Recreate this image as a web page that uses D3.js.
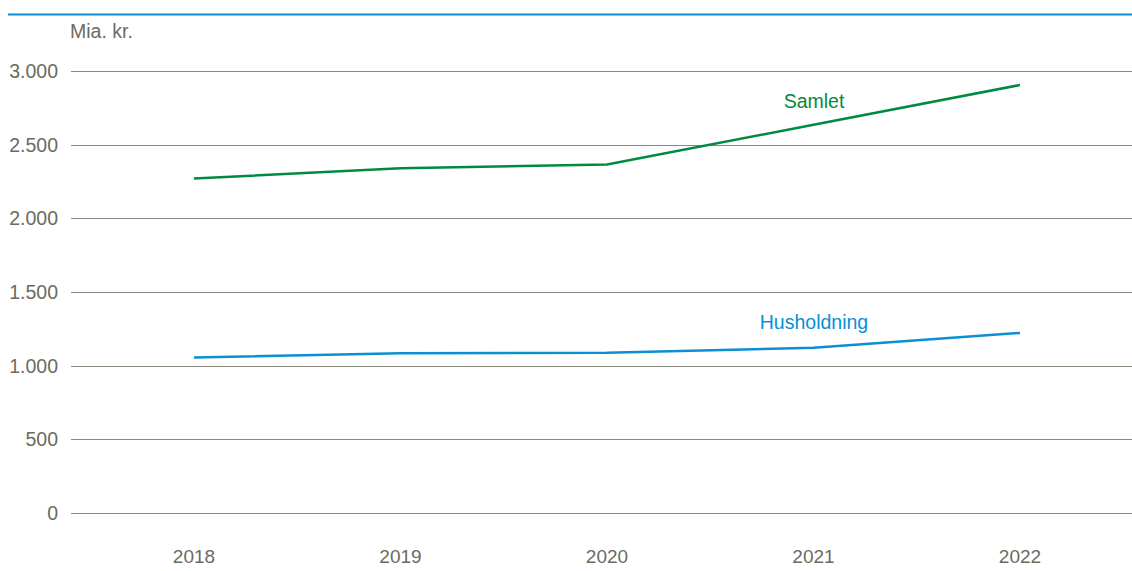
<!DOCTYPE html>
<html>
<head>
<meta charset="utf-8">
<script src="https://cdn.jsdelivr.net/npm/d3@7"></script>
<style>
  body { margin: 0; background: #fff; }
  svg { display: block; font-family: 'Liberation Sans', Arial, sans-serif; }
</style>
</head>
<body>
<div id="chart"></div>
<script>
const years = ['2018', '2019', '2020', '2021', '2022']
const samlet = [2270, 2340, 2365, 2635, 2905]
const husholdning = [1055, 1085, 1087, 1122, 1222]
const yTicks = [0, 500, 1000, 1500, 2000, 2500, 3000]

const w = 1132, h = 571
const plot = { left: 71, right: 1132, top: 71, bottom: 513 }
const textColor = '#6b6b5e'
const gridColor = '#8a8a7c'

const svg = d3.select('#chart').append('svg').attr('width', w).attr('height', h)

// top rule
svg.append('line')
  .attr('x1', 8).attr('x2', w).attr('y1', 14.5).attr('y2', 14.5)
  .attr('stroke', '#0a8fd3').attr('stroke-width', 2)

const x = d3.scalePoint().domain(years).range([194, 1020])
const y = d3.scaleLinear().domain([0, 3000]).range([plot.bottom, plot.top])

const fmt = d => d3.format(',')(d).replace(/,/g, '.')

// grid
svg.append('g').selectAll('line').data(yTicks).enter().append('line')
  .attr('x1', plot.left).attr('x2', plot.right)
  .attr('y1', d => Math.round(y(d)) + 0.5).attr('y2', d => Math.round(y(d)) + 0.5)
  .attr('stroke', gridColor).attr('stroke-width', 1.2)

svg.append('g').selectAll('text').data(yTicks).enter().append('text')
  .attr('x', 58).attr('y', d => y(d) + 7)
  .attr('text-anchor', 'end')
  .attr('font-size', '19.5px')
  .attr('fill', textColor)
  .text(fmt)

svg.append('text').attr('x', 70).attr('y', 38)
  .attr('font-size', '19.5px').attr('fill', textColor).text('Mia. kr.')

svg.append('g').selectAll('text').data(years).enter().append('text')
  .attr('x', d => x(d)).attr('y', 563)
  .attr('text-anchor', 'middle')
  .attr('font-size', '19px')
  .attr('fill', textColor)
  .text(d => d)

const line = d3.line().x((d, i) => x(years[i])).y(d => y(d))

const series = [
  { name: 'Samlet', values: samlet, color: '#008a3e', lx: 814, ly: 108 },
  { name: 'Husholdning', values: husholdning, color: '#0a8fd3', lx: 814, ly: 329 }
]

series.forEach(s => {
  svg.append('path').datum(s.values)
    .attr('d', line)
    .attr('fill', 'none')
    .attr('stroke', s.color)
    .attr('stroke-width', 2.5)
  svg.append('text').attr('x', s.lx).attr('y', s.ly)
    .attr('text-anchor', 'middle')
    .attr('font-size', '19.5px')
    .attr('fill', s.color)
    .text(s.name)
})
</script>
</body>
</html>
